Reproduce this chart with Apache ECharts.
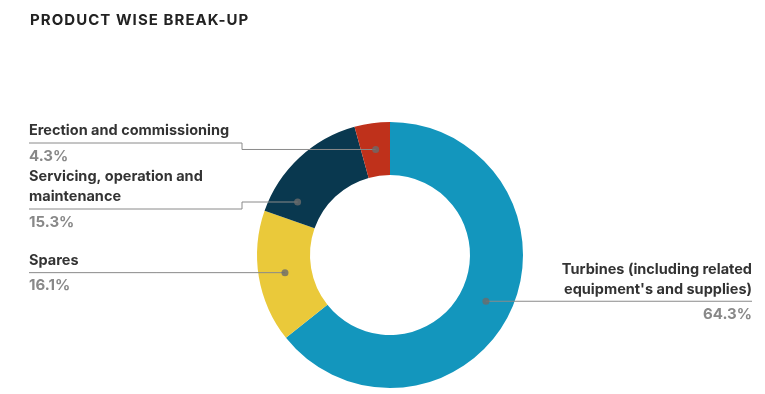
<!DOCTYPE html>
<html><head><meta charset="utf-8">
<script src="https://cdn.jsdelivr.net/npm/echarts@6/dist/echarts.min.js"></script>
<style>
html,body{margin:0;padding:0;background:#fff}
#wrap{position:relative;width:765px;height:394px}
#c{width:765px;height:394px}
#t{position:absolute;left:30px;top:11px;font:700 15px Inter,"Noto Sans",sans-serif;letter-spacing:1.05px;color:#222;line-height:18px;white-space:nowrap}
</style>
</head><body><div id="wrap"><div id="c"></div><div id="t"></div></div>
<script>
const titleText = 'PRODUCT WISE BREAK-UP';
const categories = [
  "Turbines (including related\nequipment's and supplies)",
  'Spares',
  'Servicing, operation and\nmaintenance',
  'Erection and commissioning'
];
const shares = [64.3, 16.1, 15.3, 4.3];
const colors = ['#1396bd', '#eac93a', '#09384f', '#bf311b'];

document.getElementById('t').textContent = titleText;

const CX = 390, CY = 255, R0 = 80, R1 = 133;
const RMID = (R0 + R1) / 2;
const FONT = 'Inter, "Noto Sans", sans-serif';
// label layout (style/positions, not data)
const labelCfg = [
  { side: 'right', x: 752, lineY: 302 },
  { side: 'left', x: 29, lineY: 274 },
  { side: 'left', x: 29, lineY: 202, underY: 209, elbowX: 242 },
  { side: 'left', x: 29, lineY: 151, underY: 143, elbowX: 242 }
];

const total = shares.reduce((a, b) => a + b, 0);
function anchor(i) {
  let cum = 0;
  for (let k = 0; k < i; k++) cum += shares[k];
  const frac = (cum + shares[i] / 2) / total;
  const th = frac * Math.PI * 2;
  let x = CX + RMID * Math.sin(th), y = CY - RMID * Math.cos(th);
  const ly = labelCfg[i].lineY;
  if (Math.abs(y - ly) > 4) {
    y = ly;
    x = CX + Math.sign(Math.sin(th)) * Math.sqrt(RMID * RMID - (ly - CY) * (ly - CY));
  }
  return [x, y];
}
const anchors = shares.map((_, i) => anchor(i));
const dotData = anchors.map(p => {
  let a = Math.atan2(p[0] - CX, -(p[1] - CY));
  if (a < 0) a += Math.PI * 2;
  return [Math.hypot(p[0] - CX, p[1] - CY), a / (Math.PI * 2) * total];
});

const pieBase = {
  type: 'pie',
  center: [CX, CY],
  radius: [R0, R1],
  startAngle: 90,
  clockwise: true,
  avoidLabelOverlap: false,
  silent: true,
  emphasis: { disabled: true }
};

const chart = echarts.init(document.getElementById('c'));
chart.setOption({
  animation: false,
  polar: { center: [CX, CY], radius: R1 },
  angleAxis: { type: 'value', min: 0, max: total, startAngle: 90, clockwise: true, show: false },
  radiusAxis: { type: 'value', min: 0, max: R1, show: false },
  series: [
    Object.assign({}, pieBase, {
      z: 2,
      data: categories.map((c, i) => ({ name: c, value: shares[i], itemStyle: { color: colors[i] } })),
      label: { show: false },
      labelLine: { show: false }
    }),
    Object.assign({}, pieBase, {
      z: 4,
      data: categories.map((c, i) => ({ name: c, value: shares[i] })),
      itemStyle: { color: 'rgba(0,0,0,0)', borderWidth: 0 },
      label: {
        show: true,
        position: 'outside',
        formatter: p => '{n|' + p.name.split('\n').join('}\n{n|') + '}\n{v|' + p.value.toFixed(1) + '%}',
        rich: {
          n: { fontFamily: FONT, fontSize: 14.5, fontWeight: 'bold', color: '#333', lineHeight: 20 },
          v: { fontFamily: FONT, fontSize: 15, fontWeight: 'bold', color: '#888', lineHeight: 30 }
        }
      },
      labelLine: { show: true, lineStyle: { color: '#8a8a8a', width: 1 } },
      labelLayout: function (params) {
        const i = params.dataIndex;
        const cfg = labelCfg[i];
        const a = anchors[i];
        const under = cfg.underY != null ? cfg.underY : a[1];
        const nLines = categories[i].split('\n').length;
        const top = under - 12 - 10 - 20 * (nLines - 1);
        let pts;
        if (cfg.underY != null) {
          pts = [a, [cfg.elbowX, a[1]], [cfg.elbowX, under], [cfg.x, under]];
        } else {
          pts = [a, [(a[0] + cfg.x) / 2, a[1]], [cfg.x, under]];
        }
        return {
          x: cfg.x, y: top,
          align: cfg.side === 'left' ? 'left' : 'right',
          verticalAlign: 'top',
          labelLinePoints: pts
        };
      }
    }),
    {
      type: 'scatter',
      coordinateSystem: 'polar',
      symbol: 'circle',
      symbolSize: 7,
      silent: true,
      z: 5,
      itemStyle: { color: '#6b6b6b' },
      data: dotData
    }
  ]
});
</script></body></html>
